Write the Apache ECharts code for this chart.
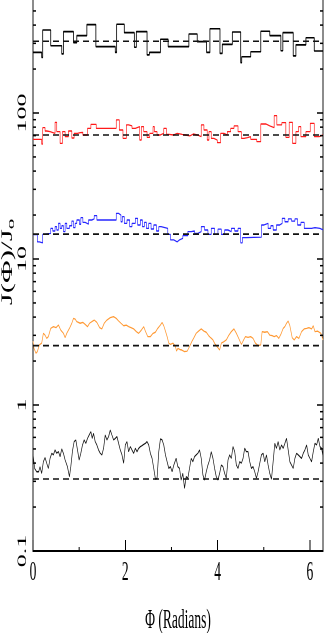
<!DOCTYPE html>
<html><head><meta charset="utf-8">
<script src="https://cdn.jsdelivr.net/npm/echarts@6.0.0/dist/echarts.min.js"></script>
<style>
html,body{margin:0;padding:0;background:#fff;overflow:hidden;width:324px;height:633px}
#wrap{width:324px;height:633px;overflow:hidden;position:relative}
#chart{width:648px;height:633px;transform:scaleX(0.5);transform-origin:0 0;position:absolute;left:0;top:0}
</style></head><body><div id="wrap"><div id="chart"></div></div>
<script>
// ---- data: [phi (radians), J/J0] ----
const topSteps = [[0,260],[0.188,240],[0.210,370],[0.384,289],[0.623,254],[0.660,361],[0.877,303],[0.949,339],[1.167,403],[1.362,285],[1.783,260],[1.812,405],[1.978,355],[2.196,282],[2.239,361],[2.471,250],[2.522,260],[2.761,320],[2.928,285],[3.377,348],[3.558,308],[3.761,260],[3.833,378],[4.051,256],[4.101,295],[4.319,359],[4.500,221],[4.522,243],[4.717,263],[4.935,363],[5.130,339],[5.370,267],[5.413,355],[5.638,246],[5.696,293],[5.913,328],[6.094,266],[6.283,266]];
const redSteps = [[0,66.0],[0.188,61.3],[0.210,79.4],[0.261,75.3],[0.297,74.5],[0.370,72.6],[0.478,86.3],[0.514,74.5],[0.587,62.0],[0.638,74.5],[0.696,68.8],[0.768,75.3],[0.841,67.4],[0.891,72.6],[0.964,73.3],[1.022,73.7],[1.080,70.7],[1.181,78.5],[1.254,83.6],[1.370,78.5],[1.804,89.6],[1.870,76.5],[1.949,67.1],[2.022,82.8],[2.072,81.5],[2.145,78.5],[2.217,80.6],[2.312,65.3],[2.348,80.6],[2.399,74.5],[2.471,68.1],[2.529,72.6],[2.601,80.6],[2.630,74.5],[2.688,70.7],[2.761,72.6],[2.833,78.5],[2.891,71.4],[2.942,70.7],[3.051,72.6],[3.123,71.4],[3.232,70.7],[3.304,69.6],[3.399,71.8],[3.471,70.7],[3.558,68.8],[3.645,82.8],[3.703,76.5],[3.775,65.3],[3.812,74.5],[3.862,67.1],[3.920,65.3],[3.993,62.6],[4.065,72.6],[4.138,70.7],[4.210,74.5],[4.283,78.5],[4.355,81.5],[4.442,74.5],[4.514,67.1],[4.572,67.8],[4.645,68.8],[4.717,66.0],[4.848,63.6],[4.935,84.1],[5.043,81.5],[5.130,79.4],[5.225,95.9],[5.283,82.8],[5.391,85.8],[5.478,68.1],[5.551,86.3],[5.623,62.0],[5.696,74.5],[5.754,80.6],[5.804,68.8],[5.913,74.5],[6.007,85.0],[6.094,68.8],[6.203,70.7],[6.283,70.7]];
const blueSteps = [[0,14.7],[0.094,13.1],[0.138,12.9],[0.210,14.75],[0.261,15.0],[0.384,16.2],[0.428,15.55],[0.478,16.65],[0.514,15.8],[0.551,17.55],[0.587,16.2],[0.623,16.9],[0.659,15.4],[0.696,17.55],[0.732,16.2],[0.790,16.9],[0.841,18.2],[0.877,16.4],[0.913,17.55],[0.949,18.5],[1.007,17.3],[1.036,19.2],[1.080,17.8],[1.130,17.3],[1.203,18.5],[1.275,18.8],[1.326,19.8],[1.384,18.5],[1.804,20.55],[1.855,20.0],[1.906,18.0],[1.935,19.5],[1.978,17.55],[2.036,18.5],[2.094,16.65],[2.145,17.55],[2.217,19.0],[2.268,17.1],[2.326,18.5],[2.370,16.65],[2.413,17.8],[2.457,16.2],[2.507,17.55],[2.558,16.05],[2.616,17.1],[2.674,15.55],[2.725,16.65],[2.775,16.2],[2.920,14.75],[2.978,13.5],[3.051,13.1],[3.123,13.5],[3.174,13.85],[3.246,14.45],[3.355,15.4],[3.428,15.55],[3.500,15.0],[3.572,15.4],[3.645,16.65],[3.717,15.8],[3.790,14.75],[3.862,16.2],[3.935,14.75],[4.007,16.0],[4.080,14.75],[4.152,15.8],[4.225,15.4],[4.297,16.2],[4.370,15.55],[4.442,16.2],[4.500,12.9],[4.536,14.0],[4.623,14.1],[4.949,17.1],[5.007,17.55],[5.094,16.2],[5.152,16.9],[5.203,15.8],[5.275,17.1],[5.348,17.55],[5.399,19.0],[5.457,18.0],[5.529,18.8],[5.601,18.2],[5.674,18.8],[5.732,17.1],[5.804,17.8],[5.877,16.2],[6.036,16.4],[6.109,16.2],[6.217,15.8],[6.283,15.8]];
const orangeLine = [[0,2.74],[0.022,2.44],[0.065,2.26],[0.094,2.32],[0.138,2.58],[0.188,2.65],[0.225,3.10],[0.261,3.01],[0.297,2.86],[0.333,2.94],[0.384,3.35],[0.442,3.44],[0.500,3.39],[0.551,3.53],[0.601,3.26],[0.659,3.10],[0.696,2.89],[0.732,3.10],[0.790,3.35],[0.841,3.63],[0.877,3.92],[0.913,3.88],[0.949,3.72],[1.022,3.63],[1.080,3.68],[1.130,3.57],[1.181,3.44],[1.225,3.63],[1.275,3.72],[1.326,3.82],[1.384,3.68],[1.442,3.39],[1.493,3.32],[1.543,3.63],[1.601,3.82],[1.674,3.97],[1.746,4.03],[1.804,3.92],[1.855,3.76],[1.906,3.63],[1.964,3.49],[2.022,3.53],[2.072,3.44],[2.123,3.39],[2.181,3.32],[2.239,3.18],[2.290,3.10],[2.348,3.26],[2.399,3.44],[2.435,3.21],[2.486,2.94],[2.543,2.94],[2.601,3.10],[2.652,3.15],[2.703,3.35],[2.761,3.53],[2.797,3.68],[2.833,3.49],[2.870,3.21],[2.906,2.94],[2.942,2.65],[2.978,2.60],[3.036,2.65],[3.087,2.51],[3.109,2.34],[3.138,2.44],[3.181,2.40],[3.225,2.38],[3.283,2.32],[3.341,2.34],[3.391,2.51],[3.442,2.72],[3.486,2.89],[3.536,3.10],[3.587,3.21],[3.645,3.32],[3.703,3.21],[3.754,3.15],[3.804,2.99],[3.848,2.89],[3.899,2.79],[3.949,2.60],[4.007,2.47],[4.043,2.38],[4.080,2.65],[4.138,2.72],[4.188,2.79],[4.239,2.99],[4.297,3.18],[4.355,3.32],[4.406,3.10],[4.457,2.86],[4.515,2.60],[4.551,2.74],[4.601,2.94],[4.659,2.91],[4.717,2.94],[4.768,2.86],[4.819,2.65],[4.877,2.55],[4.935,2.58],[4.964,3.18],[5.022,3.15],[5.080,3.18],[5.130,3.01],[5.181,2.99],[5.225,2.94],[5.275,2.99],[5.326,2.86],[5.370,3.05],[5.420,3.35],[5.457,3.44],[5.493,3.63],[5.529,3.76],[5.565,3.49],[5.616,2.89],[5.659,2.79],[5.710,2.94],[5.761,2.86],[5.819,3.18],[5.877,3.32],[5.928,3.35],[5.978,3.39],[6.036,3.32],[6.072,3.49],[6.109,3.18],[6.167,3.21],[6.239,3.10],[6.283,2.79]];
const blackLine = [[0,0.459],[0.036,0.368],[0.080,0.349],[0.123,0.349],[0.152,0.378],[0.188,0.340],[0.225,0.409],[0.261,0.436],[0.297,0.399],[0.333,0.368],[0.370,0.431],[0.406,0.467],[0.442,0.455],[0.478,0.492],[0.514,0.467],[0.551,0.479],[0.587,0.443],[0.623,0.500],[0.659,0.467],[0.696,0.420],[0.746,0.378],[0.790,0.323],[0.819,0.378],[0.855,0.484],[0.891,0.561],[0.928,0.576],[0.964,0.492],[1.000,0.420],[1.036,0.467],[1.072,0.532],[1.109,0.576],[1.145,0.546],[1.181,0.591],[1.217,0.623],[1.254,0.657],[1.283,0.591],[1.312,0.639],[1.348,0.561],[1.384,0.532],[1.420,0.492],[1.457,0.467],[1.493,0.455],[1.529,0.505],[1.565,0.623],[1.601,0.576],[1.638,0.607],[1.674,0.674],[1.710,0.623],[1.746,0.576],[1.783,0.591],[1.819,0.607],[1.855,0.546],[1.891,0.492],[1.928,0.455],[1.964,0.399],[2.000,0.532],[2.036,0.561],[2.072,0.479],[2.109,0.519],[2.145,0.492],[2.181,0.467],[2.217,0.505],[2.254,0.479],[2.290,0.505],[2.326,0.519],[2.362,0.527],[2.399,0.538],[2.435,0.546],[2.471,0.561],[2.507,0.532],[2.543,0.467],[2.580,0.431],[2.616,0.368],[2.652,0.311],[2.688,0.315],[2.725,0.479],[2.761,0.585],[2.797,0.576],[2.833,0.532],[2.870,0.455],[2.906,0.409],[2.942,0.368],[2.978,0.378],[3.014,0.349],[3.051,0.388],[3.101,0.431],[3.138,0.378],[3.174,0.368],[3.210,0.306],[3.246,0.340],[3.283,0.269],[3.319,0.323],[3.355,0.315],[3.391,0.368],[3.428,0.431],[3.464,0.409],[3.500,0.443],[3.536,0.455],[3.572,0.467],[3.609,0.492],[3.645,0.431],[3.681,0.332],[3.717,0.306],[3.754,0.349],[3.790,0.388],[3.826,0.420],[3.862,0.479],[3.899,0.431],[3.935,0.368],[3.971,0.323],[4.007,0.306],[4.043,0.340],[4.080,0.388],[4.116,0.378],[4.152,0.340],[4.188,0.315],[4.225,0.420],[4.261,0.455],[4.297,0.431],[4.333,0.519],[4.370,0.479],[4.406,0.388],[4.442,0.368],[4.478,0.409],[4.515,0.399],[4.551,0.431],[4.587,0.505],[4.623,0.479],[4.659,0.479],[4.696,0.409],[4.732,0.368],[4.768,0.378],[4.804,0.349],[4.841,0.315],[4.877,0.349],[4.913,0.399],[4.949,0.455],[4.986,0.467],[5.022,0.409],[5.058,0.455],[5.094,0.388],[5.130,0.340],[5.167,0.311],[5.203,0.409],[5.239,0.546],[5.275,0.505],[5.312,0.561],[5.348,0.492],[5.384,0.532],[5.420,0.505],[5.457,0.546],[5.493,0.591],[5.529,0.492],[5.565,0.409],[5.601,0.388],[5.638,0.368],[5.674,0.431],[5.710,0.467],[5.746,0.455],[5.783,0.443],[5.819,0.431],[5.855,0.467],[5.891,0.492],[5.928,0.532],[5.964,0.455],[6.000,0.431],[6.036,0.409],[6.072,0.479],[6.109,0.546],[6.145,0.532],[6.181,0.591],[6.217,0.519],[6.254,0.505],[6.283,0.443]];
const refLevels = [310, 70.7, 14.8, 2.55, 0.311];
const xTickLabels = [0, 2, 4, 6];
const xMinorTicks = [1, 3, 5];
const yMinorTicks = [0.2,0.3,0.4,0.5,0.6,0.7,0.8,0.9,2,3,4,5,6,7,8,9,20,30,40,50,60,70,80,90,200,300,400,500];
const PHI_MAX = 2 * Math.PI;
const Y_MIN = 0.1, Y_MAX = 643;

const FONT = 'Liberation Serif';
const chart = echarts.init(document.getElementById('chart'), null, {renderer: 'canvas'});

function lineSeries(data, color, width, step) {
  return {type: 'line', data: data, step: step || false, showSymbol: false, symbol: 'none',
    lineStyle: {color: color, width: width}, silent: true, z: 3, clip: true};
}
const refSeries = refLevels.map(v => ({
  type: 'line', data: [[0, v], [PHI_MAX, v]], showSymbol: false, symbol: 'none', silent: true, z: 4,
  lineStyle: {color: '#111', width: 1.6, type: [12, 8]}
}));

const yAxisCommon = {
  type: 'log', logBase: 10, min: Y_MIN, max: Y_MAX,
  axisLine: {show: true, lineStyle: {color: '#000', width: 1.8}},
  axisTick: {show: true, inside: true, length: 12, lineStyle: {color: '#000', width: 1.5}},
  splitLine: {show: false}, minorTick: {show: false}
};

chart.setOption({
  animation: false,
  backgroundColor: '#fff',
  grid: {left: 66, right: 2, top: -5, bottom: 82, containLabel: false, outerBoundsMode: 'none'},
  xAxis: {
    type: 'value', min: 0, max: PHI_MAX, interval: 2,
    axisLine: {show: true, onZero: false, lineStyle: {color: '#000', width: 2}},
    axisTick: {inside: true, length: 11, lineStyle: {color: '#000', width: 2}},
    axisLabel: {showMaxLabel: false, margin: 8, fontFamily: FONT, fontSize: 27, color: '#000',
      formatter: v => (xTickLabels.indexOf(v) >= 0 ? String(v) : '')},
    splitLine: {show: false},
    name: 'Φ (Radians)', nameLocation: 'middle', nameGap: 56,
    nameTextStyle: {fontFamily: FONT, fontSize: 27, color: '#000'}
  },
  yAxis: [
    Object.assign({}, yAxisCommon, {position: 'left',
      axisLabel: {show: true, rotate: 90, margin: 8, fontFamily: FONT, fontSize: 26, color: '#000',
        showMaxLabel: false, formatter: v => String(+(+v).toPrecision(3))}}),
    Object.assign({}, yAxisCommon, {position: 'right', axisLabel: {show: false}})
  ],
  graphic: [{
    type: 'text', x: 16, y: 262, rotation: Math.PI / 2, silent: true,
    style: {text: 'J(Φ)/J{s|o}', fontFamily: FONT, fontSize: 31, fill: '#000',
      align: 'center', verticalAlign: 'middle',
      rich: {s: {fontFamily: FONT, fontSize: 21, fill: '#000', verticalAlign: 'bottom', padding: [12, 0, 0, 0]}}}
  }],
  series: [
    lineSeries(topSteps, '#000', 1.6, 'end'),
    lineSeries(redSteps, '#ff1a1a', 1.3, 'end'),
    lineSeries(blueSteps, '#2626ff', 1.3, 'end'),
    lineSeries(orangeLine, '#ff9933', 1.3, false),
    lineSeries(blackLine, '#111', 1.3, false),
    ...refSeries,
    {
      type: 'custom', silent: true, z: 5, clip: false,
      data: yMinorTicks.map(v => [0, v]),
      encode: {x: 0, y: 1},
      renderItem: function (params, api) {
        const v = api.value(1);
        const l = api.coord([0, v]);
        const r = api.coord([PHI_MAX, v]);
        return {type: 'group', children: [
          {type: 'line', shape: {x1: l[0], y1: l[1], x2: l[0] + 6, y2: l[1]}, style: {stroke: '#000', lineWidth: 1.5}},
          {type: 'line', shape: {x1: r[0] - 6, y1: r[1], x2: r[0], y2: r[1]}, style: {stroke: '#000', lineWidth: 1.5}}
        ]};
      }
    },
    {
      type: 'custom', silent: true, z: 5, clip: false,
      data: xMinorTicks.map(v => [v, Y_MIN]),
      encode: {x: 0, y: 1},
      renderItem: function (params, api) {
        const p = api.coord([api.value(0), Y_MIN]);
        return {type: 'line', shape: {x1: p[0], y1: p[1], x2: p[0], y2: p[1] - 4}, style: {stroke: '#000', lineWidth: 2}};
      }
    }
  ]
});
</script></body></html>
